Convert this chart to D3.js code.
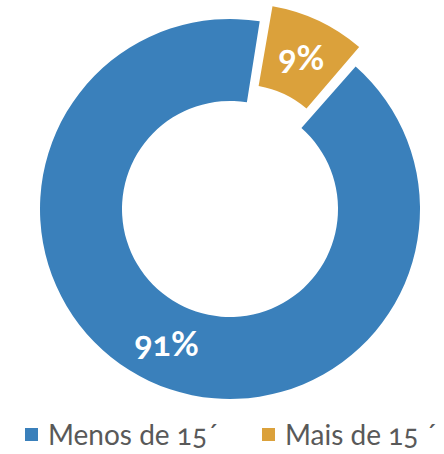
<!DOCTYPE html>
<html>
<head>
<meta charset="utf-8">
<script src="https://cdn.jsdelivr.net/npm/d3@7"></script>
<style>
  body { margin: 0; background: #fff; }
  svg text { font-family: Lato, "Open Sans", sans-serif; font-variant-numeric: oldstyle-nums; }
</style>
</head>
<body>
<div id="chart"></div>
<script>
const categories = ["Menos de 15\u00b4", "Mais de 15 \u00b4"];
const values = [91, 9];
const colors = ["#3a80bb", "#dba13b"];
const exploded = [false, true];

const width = 444, height = 454;
const cx = 230, cy = 209,
    outerR = 190, innerR = 108;

const svg = d3.select("#chart").append("svg")
    .attr("width", width)
    .attr("height", height);

const color = d3.scaleOrdinal().domain(categories).range(colors);

// first slice starts at ~41 deg so the small one sits at the top right
const startAngle = 41.4 * Math.PI / 180;
const pie = d3.pie().sort(null).value(d => d.value)
    .startAngle(startAngle).endAngle(startAngle + 2 * Math.PI);

const data = categories.map((c, i) => ({ name: c, value: values[i], explode: exploded[i] }));
const arcs = pie(data);

const arc = d3.arc().innerRadius(innerR).outerRadius(outerR);
// exploded slice is pulled out and shrunk a bit, like the office chart does
const arcOut = d3.arc().innerRadius(100).outerRadius(181);
const shrink = 0.015, explodeDist = 27;

const g = svg.append("g").attr("transform", `translate(${cx},${cy})`);

const slices = g.selectAll(".slice").data(arcs)
    .join("g")
    .attr("class", "slice")
    .attr("transform", d => {
        if (!d.data.explode) return null;
        const mid = (d.startAngle + d.endAngle) / 2;
        return `translate(${explodeDist * Math.sin(mid)},${-explodeDist * Math.cos(mid)})`;
    });

slices.append("path")
    .attr("fill", d => color(d.data.name))
    .attr("d", d => d.data.explode
        ? arcOut({ ...d, startAngle: d.startAngle + shrink, endAngle: d.endAngle - shrink })
        : arc(d));

slices.append("text")
    .attr("transform", d => `translate(${(d.data.explode ? arcOut : arc).centroid(d)})`)
    .attr("text-anchor", "middle")
    .attr("dy", "0.36em")
    .attr("fill", "#fff")
    .attr("font-size", 34)
    .attr("font-weight", "bold")
    .text(d => d.data.value + "%");

// legend
const legendX = d3.scaleOrdinal().domain(categories).range([25, 262]);
const legend = svg.append("g").selectAll("g").data(categories)
    .join("g")
    .attr("transform", d => `translate(${legendX(d)},428)`);

legend.append("rect")
    .attr("width", 13)
    .attr("height", 13)
    .attr("fill", d => color(d));

legend.append("text")
    .attr("x", 23)
    .attr("y", 17)
    .attr("fill", "#595959")
    .attr("font-size", 28)
    .text(d => d);
</script>
</body>
</html>
